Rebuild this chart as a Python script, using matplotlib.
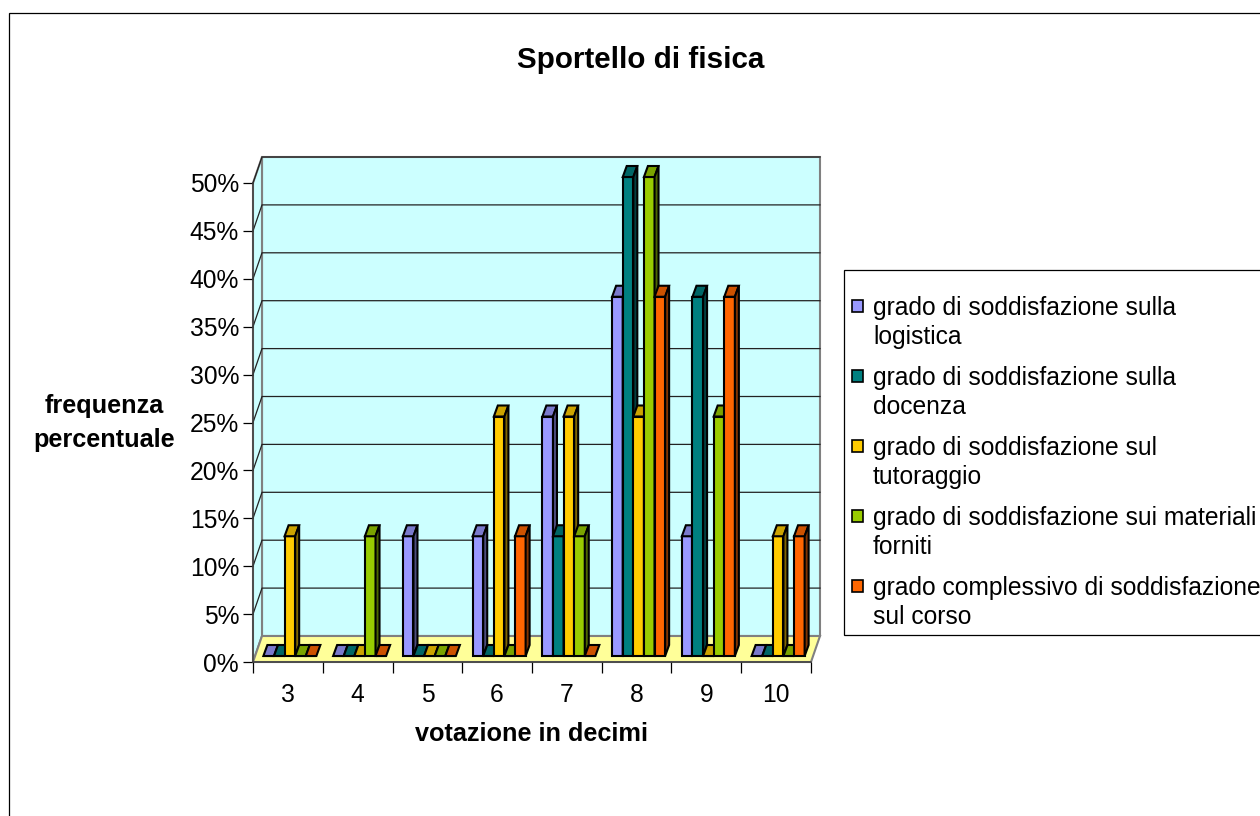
import matplotlib
matplotlib.use('agg')
import matplotlib.pyplot as plt
from matplotlib.patches import Polygon, Rectangle
import numpy as np

categories = ['3', '4', '5', '6', '7', '8', '9', '10']
logistica = [0, 0, 12.5, 12.5, 25, 37.5, 12.5, 0]
docenza = [0, 0, 0, 0, 12.5, 50, 37.5, 0]
tutoraggio = [12.5, 0, 0, 25, 25, 25, 0, 12.5]
materiali = [0, 12.5, 0, 0, 12.5, 50, 25, 0]
complessivo = [0, 0, 0, 12.5, 0, 37.5, 37.5, 12.5]
series = [logistica, docenza, tutoraggio, materiali, complessivo]
labels = ['grado di soddisfazione sulla\nlogistica',
          'grado di soddisfazione sulla\ndocenza',
          'grado di soddisfazione sul\ntutoraggio',
          'grado di soddisfazione sui materiali\nforniti',
          'grado complessivo di soddisfazione\nsul corso']
colors = ['#9999FF', '#008080', '#FFCC00', '#99CC00', '#FF6600']
top_colors = ['#7A7ACC', '#006666', '#CCA300', '#7AA300', '#CC5200']
side_colors = ['#4D4D80', '#004040', '#806600', '#4D6600', '#803300']
y_ticks = np.arange(0, 55, 5)

plt.rcParams['font.family'] = ['Liberation Sans', 'DejaVu Sans']

W, H = 1260, 816
fig = plt.figure(figsize=(12.6, 8.16), dpi=100, facecolor='white')

# overlay in pixels for the chart frame, titles and legend box
bg = fig.add_axes([0, 0, 1, 1])
bg.set_xlim(0, W)
bg.set_ylim(H, 0)
bg.axis('off')
bg.add_patch(Rectangle((8.7, 12.7), 1300, 900, fc='white', ec='black', lw=0.9))
bg.text(641, 60, 'Sportello di fisica', fontsize=21.3, fontweight='bold', ha='center', va='center')
bg.text(104, 423, 'frequenza\npercentuale', fontsize=18.2, fontweight='bold',
        ha='center', va='center', linespacing=1.5)
bg.text(531.5, 734, 'votazione in decimi', fontsize=18.2, fontweight='bold', ha='center', va='center')

# legend
bg.add_patch(Rectangle((844, 270), 500, 365, fc='white', ec='black', lw=0.9))
for i, lab in enumerate(labels):
    y0 = 306 + 70 * i
    bg.add_patch(Rectangle((851.5, y0 - 6), 11, 12, fc=colors[i], ec='black', lw=1.2))
    bg.text(873, y0 - 9.5, lab, fontsize=17.7, va='top', ha='left', linespacing=1.25)

# main axes sit on the front plane of the 3D box
ax = fig.add_axes([253 / W, 1 - 662 / H, 558 / W, 479 / H])
ax.set_xlim(0, 8)
ax.set_ylim(0, 50)
ax.patch.set_visible(False)

px_x = 8 / 558
px_y = 50 / 479
wall_dx = 9 * px_x
wall_dy = 26 * px_y

ax.add_patch(Rectangle((wall_dx, wall_dy), 8, 50, fc='#CCFFFF', ec='#808080', lw=1.5, zorder=1, clip_on=False))
ax.add_patch(Polygon([(0, 0), (wall_dx, wall_dy), (wall_dx, 50 + wall_dy), (0, 50)],
                     fc='#CCFFFF', ec='#808080', lw=1.5, zorder=1, clip_on=False))
ax.add_patch(Polygon([(0, 0), (8, 0), (8 + wall_dx, wall_dy), (wall_dx, wall_dy)],
                     fc='#FFFF99', ec='#808080', lw=1.5, zorder=1.5, clip_on=False))

for v in y_ticks[1:]:
    ax.plot([0, wall_dx, 8 + wall_dx], [v, v + wall_dy, v + wall_dy], color='#222222', lw=0.9,
            zorder=2, clip_on=False)

# bars: front face from ax.bar, top and side as polygons
bar_w = 10.6 * px_x
off_x = 2 * px_x
off_y = 6 * px_y
depth_x = 4 * px_x
depth_y = 11 * px_y
x_base = np.arange(len(categories)) + 0.5 + off_x
for i, vals in enumerate(series):
    z = 3 + i
    xs = x_base + (i - 2) * bar_w
    ax.bar(xs, vals, width=bar_w, bottom=off_y, color=colors[i], edgecolor='black', lw=1.5,
           zorder=z, clip_on=False)
    for x, v in zip(xs, vals):
        l, r = x - bar_w / 2, x + bar_w / 2
        t = v + off_y
        ax.add_patch(Polygon([(l, t), (r, t), (r + depth_x, t + depth_y), (l + depth_x, t + depth_y)],
                             fc=top_colors[i], ec='black', lw=1.5, zorder=z, clip_on=False))
        if v > 0:
            ax.add_patch(Polygon([(r, off_y), (r + depth_x, off_y + depth_y), (r + depth_x, t + depth_y), (r, t)],
                                 fc=side_colors[i], ec='black', lw=1.5, zorder=z, clip_on=False))

for s in ['top', 'right']:
    ax.spines[s].set_visible(False)
for s in ['left', 'bottom']:
    ax.spines[s].set_color('#404040')
    ax.spines[s].set_linewidth(1.1)
    ax.spines[s].set_zorder(2)

ax.set_xticks(np.arange(0, 9))
ax.set_xticklabels([])
ax.set_xticks(np.arange(8) + 0.5, categories, minor=True)
ax.tick_params(axis='x', which='major', length=8, width=0.9, color='black')
ax.tick_params(axis='x', which='minor', length=0, labelsize=17.7, pad=15)
ax.set_yticks(y_ticks)
ax.set_yticklabels([f'{v}%' for v in y_ticks])
ax.tick_params(axis='y', length=7, width=0.9, color='black', labelsize=17.7, pad=3)

fig.savefig('out.png', dpi=100)
plt.close('all')
